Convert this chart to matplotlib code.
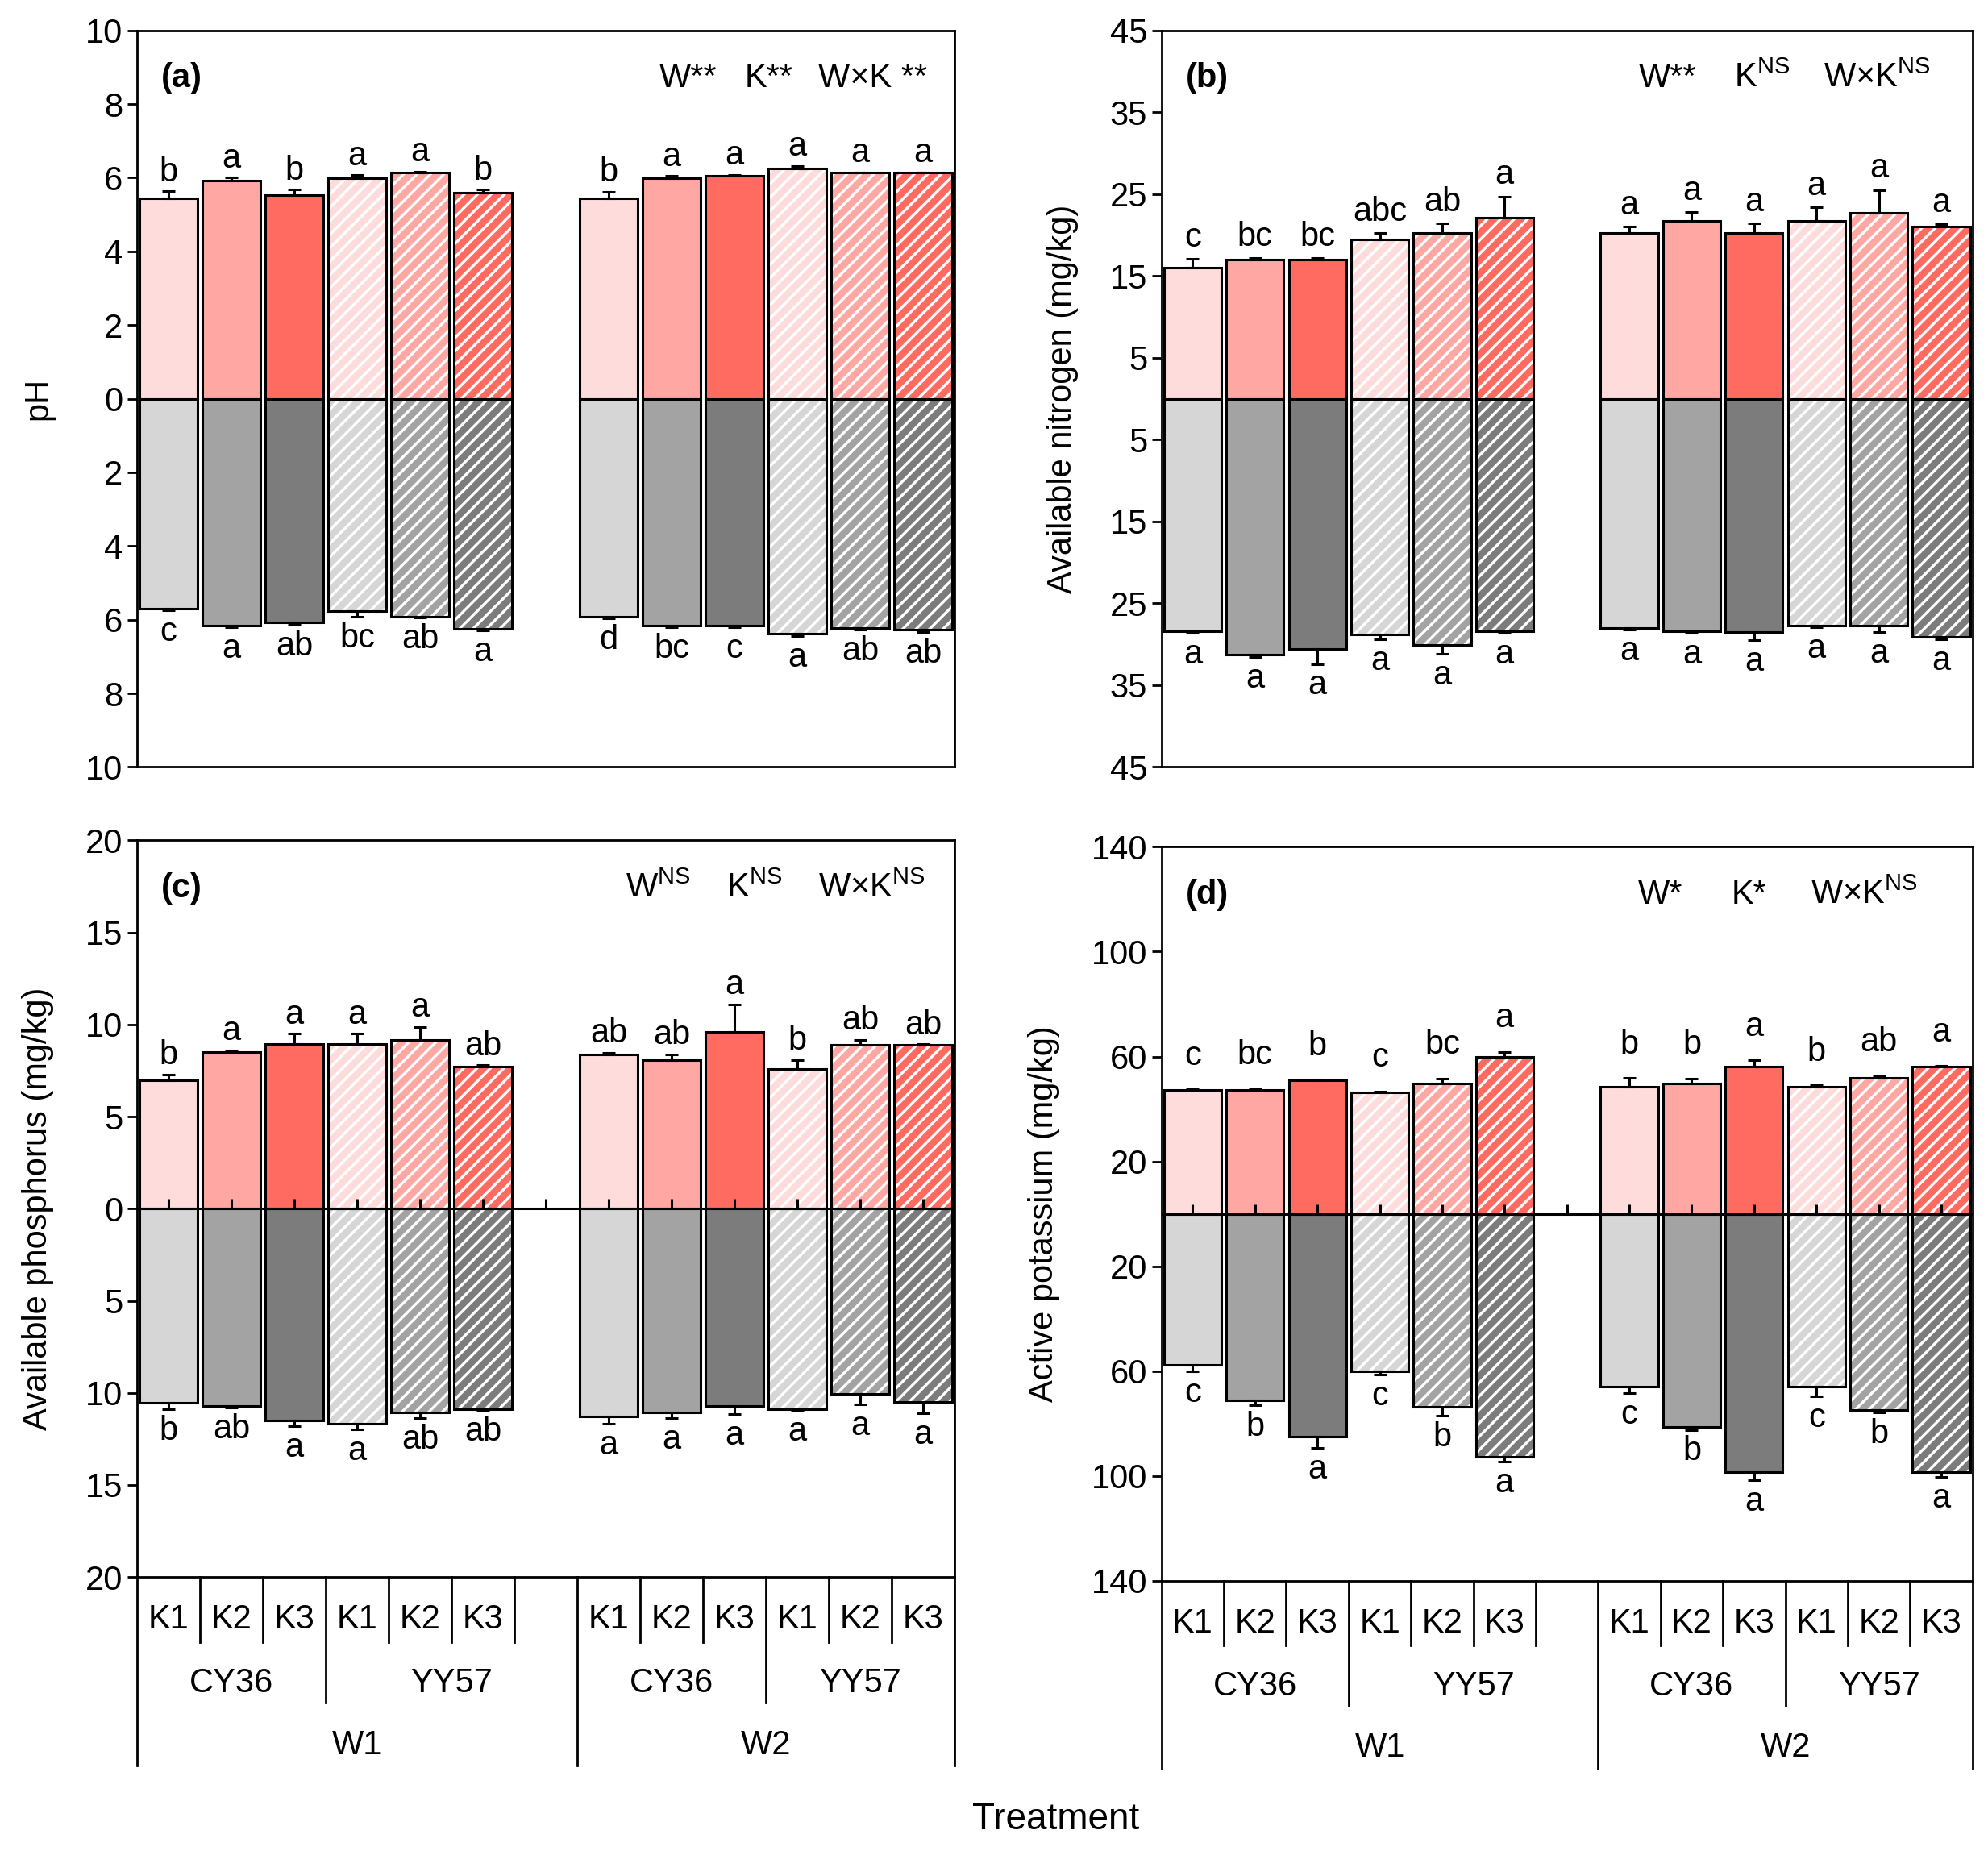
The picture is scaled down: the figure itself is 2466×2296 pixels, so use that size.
import matplotlib
matplotlib.use('Agg')
import matplotlib.pyplot as plt
import numpy as np

plt.rcParams['font.family'] = ['Liberation Sans', 'DejaVu Sans']
plt.rcParams['mathtext.fontset'] = 'custom'
plt.rcParams['mathtext.rm'] = 'Liberation Sans'
plt.rcParams['mathtext.bf'] = 'Liberation Sans:bold'
plt.rcParams['hatch.linewidth'] = 2.4

# Data: order W1 (CY36 K1-K3, YY57 K1-K3), W2 (CY36 K1-K3, YY57 K1-K3)
# upper half (red) and lower half (grey) of each panel
ph_top = [5.45, 5.92, 5.52, 5.99, 6.15, 5.60, 5.45, 5.99, 6.06, 6.24, 6.13, 6.13]
ph_top_err = [0.18, 0.08, 0.16, 0.08, 0.02, 0.08, 0.17, 0.06, 0.02, 0.08, 0.02, 0.02]
ph_bot = [5.70, 6.15, 6.08, 5.77, 5.91, 6.24, 5.91, 6.15, 6.15, 6.38, 6.22, 6.28]
ph_bot_err = [0.05, 0.05, 0.05, 0.14, 0.04, 0.05, 0.05, 0.05, 0.05, 0.06, 0.05, 0.06]
ph_top_let = ['b', 'a', 'b', 'a', 'a', 'b', 'b', 'a', 'a', 'a', 'a', 'a']
ph_bot_let = ['c', 'a', 'ab', 'bc', 'ab', 'a', 'd', 'bc', 'c', 'a', 'ab', 'ab']

n_top = [16.0, 17.0, 17.0, 19.5, 20.2, 22.1, 20.2, 21.7, 20.2, 21.7, 22.7, 21.0]
n_top_err = [1.1, 0.2, 0.2, 0.75, 1.2, 2.6, 0.8, 1.1, 1.2, 1.7, 2.8, 0.3]
n_bot = [28.4, 31.3, 30.6, 28.8, 30.1, 28.4, 28.0, 28.4, 28.5, 27.7, 27.7, 29.1]
n_bot_err = [0.2, 0.3, 1.8, 0.6, 1.1, 0.2, 0.2, 0.2, 1.0, 0.2, 0.8, 0.3]
n_top_let = ['c', 'bc', 'bc', 'abc', 'ab', 'a', 'a', 'a', 'a', 'a', 'a', 'a']
n_bot_let = ['a'] * 12

p_top = [6.96, 8.50, 8.95, 8.95, 9.17, 7.70, 8.37, 8.08, 9.60, 7.57, 8.88, 8.88]
p_top_err = [0.33, 0.10, 0.55, 0.55, 0.70, 0.10, 0.10, 0.30, 1.50, 0.50, 0.30, 0.05]
p_bot = [10.54, 10.70, 11.50, 11.67, 11.05, 10.87, 11.30, 11.05, 10.70, 10.90, 10.07, 10.50]
p_bot_err = [0.36, 0.10, 0.30, 0.30, 0.30, 0.05, 0.36, 0.30, 0.45, 0.05, 0.55, 0.60]
p_top_let = ['b', 'a', 'a', 'a', 'a', 'ab', 'ab', 'ab', 'a', 'b', 'ab', 'ab']
p_bot_let = ['b', 'ab', 'a', 'a', 'ab', 'ab', 'a', 'a', 'a', 'a', 'a', 'a']

k_top = [47.2, 47.2, 50.8, 46.2, 49.7, 59.7, 48.5, 49.7, 56.1, 48.5, 51.8, 56.1]
k_top_err = [0.3, 0.5, 0.3, 0.5, 2.0, 2.0, 3.3, 2.0, 2.5, 0.5, 0.7, 0.3]
k_bot = [57.7, 71.2, 84.9, 60.2, 73.7, 92.6, 65.8, 81.4, 98.5, 65.8, 75.0, 98.5]
k_bot_err = [2.5, 1.8, 4.3, 1.2, 3.3, 2.0, 2.5, 1.0, 3.0, 3.8, 0.8, 1.8]
k_top_let = ['c', 'bc', 'b', 'c', 'bc', 'a', 'b', 'b', 'a', 'b', 'ab', 'a']
k_bot_let = ['c', 'b', 'a', 'c', 'b', 'a', 'c', 'b', 'a', 'c', 'b', 'a']

k_levels = ['K1', 'K2', 'K3']
varieties = ['CY36', 'YY57']
water = ['W1', 'W2']

red = ['#FFDCDC', '#FFA8A3', '#FF6B61']
grey = ['#D6D6D6', '#A3A3A3', '#7C7C7C']

x = np.array([0.5, 1.5, 2.5, 3.5, 4.5, 5.5, 7.5, 8.5, 9.5, 10.5, 11.5, 12.5])
hatched = [False, False, False, True, True, True] * 2
width = 0.92
FS = 30

fig = plt.figure(figsize=(24.66, 22.96), dpi=100)


def draw_bars(ax, vals, errs, cols, upper):
    sign = 1 if upper else -1
    h = sign * np.array(vals)
    for i in range(12):
        c = cols[i % 3]
        if hatched[i]:
            ax.bar(x[i], h[i], width, color=c, edgecolor='white', hatch='//', linewidth=0, zorder=2)
            ax.bar(x[i], h[i], width, fill=False, edgecolor='black', linewidth=2.2, zorder=3)
        else:
            ax.bar(x[i], h[i], width, color=c, edgecolor='black', linewidth=2.2, zorder=3)
    e = np.array(errs)
    yerr = [np.zeros(12), e] if upper else [e, np.zeros(12)]
    ax.errorbar(x, h, yerr=yerr, fmt='none', ecolor='black', elinewidth=2.2,
                capsize=6, capthick=2.2, zorder=4)


def draw_panel(ax, top, top_err, bot, bot_err, top_let, bot_let, lim, ticks, ylabel,
               tag, sig, up_off, zero_axis):
    draw_bars(ax, top, top_err, red, True)
    draw_bars(ax, bot, bot_err, grey, False)
    for i in range(12):
        ax.annotate(top_let[i], (x[i], top[i] + top_err[i]), xytext=(0, up_off),
                    textcoords='offset points', ha='center', va='baseline', fontsize=FS)
        ax.annotate(bot_let[i], (x[i], -(bot[i] + bot_err[i])), xytext=(0, -5),
                    textcoords='offset points', ha='center', va='top', fontsize=FS)
    ax.set_xlim(0, 13)
    ax.set_ylim(-lim, lim)
    ax.set_yticks(ticks)
    ax.set_yticklabels([f'{abs(t):g}' for t in ticks])
    ax.set_xticks([])
    ax.tick_params(axis='y', labelsize=FS, direction='out', length=9, width=2)
    ax.set_ylabel(ylabel, fontsize=FS, labelpad=28)
    for s in ax.spines.values():
        s.set_linewidth(2)
    ax.text(0.03, 0.935, tag, transform=ax.transAxes, fontsize=FS, fontweight='bold',
            va='center', ha='left')
    for sx, st in sig:
        ax.text(sx, 0.935, st, transform=ax.transAxes, fontsize=FS, va='center', ha='left')
    if zero_axis:
        ax.axhline(0, color='black', lw=2.2, zorder=5)
        centers = np.arange(13) + 0.5
        ax.plot(centers, np.zeros(13), ls='none', marker=2, ms=9, mew=2.2,
                color='black', zorder=6, clip_on=False)


def add_categories(ax):
    tr = ax.get_xaxis_transform()
    short, long_, full = -0.088, -0.17, -0.256
    for b in range(14):
        if b in (0, 7, 13):
            L = full
        elif b in (3, 10):
            L = long_
        else:
            L = short
        ax.plot([b, b], [0, L], transform=tr, clip_on=False, color='black', lw=2)
    for i in range(12):
        ax.text(x[i], -0.058, k_levels[i % 3], transform=tr, ha='center', va='center', fontsize=FS)
    for c, name in zip([1.5, 5.0, 8.5, 11.5], varieties * 2):
        ax.text(c, -0.144, name, transform=tr, ha='center', va='center', fontsize=FS)
    for c, name in zip([3.5, 10.0], water):
        ax.text(c, -0.228, name, transform=tr, ha='center', va='center', fontsize=FS)


ax_a = fig.add_axes([0.0689, 0.5856, 0.4113, 0.398])
ax_b = fig.add_axes([0.5842, 0.5856, 0.408, 0.398])
ax_c = fig.add_axes([0.0689, 0.148, 0.4113, 0.398])
ax_d = fig.add_axes([0.5842, 0.146, 0.408, 0.3965])

ns = r'$^{\mathrm{NS}}$'
draw_panel(ax_a, ph_top, ph_top_err, ph_bot, ph_bot_err, ph_top_let, ph_bot_let, 10,
           np.arange(-10, 11, 2), 'pH', '(a)',
           [(0.639, 'W**'), (0.743, 'K**'), (0.833, 'W×K **')], 9, False)
draw_panel(ax_b, n_top, n_top_err, n_bot, n_bot_err, n_top_let, n_bot_let, 45,
           [-45, -35, -25, -15, -5, 5, 15, 25, 35, 45], 'Available nitrogen (mg/kg)', '(b)',
           [(0.589, 'W**'), (0.706, 'K' + ns), (0.816, 'W×K' + ns)], 11, False)
draw_panel(ax_c, p_top, p_top_err, p_bot, p_bot_err, p_top_let, p_bot_let, 20,
           np.arange(-20, 21, 5), 'Available phosphorus (mg/kg)', '(c)',
           [(0.598, 'W' + ns), (0.721, 'K' + ns), (0.833, 'W×K' + ns)], 9, True)
draw_panel(ax_d, k_top, k_top_err, k_bot, k_bot_err, k_top_let, k_bot_let, 140,
           [-140, -100, -60, -20, 20, 60, 100, 140], 'Active potassium (mg/kg)', '(d)',
           [(0.5875, 'W*'), (0.703, 'K*'), (0.80, 'W×K' + ns)], 22, True)
add_categories(ax_c)
add_categories(ax_d)

fig.text(0.531, 0.017, 'Treatment', ha='center', va='center', fontsize=33)

fig.savefig('out.png', dpi=100)
